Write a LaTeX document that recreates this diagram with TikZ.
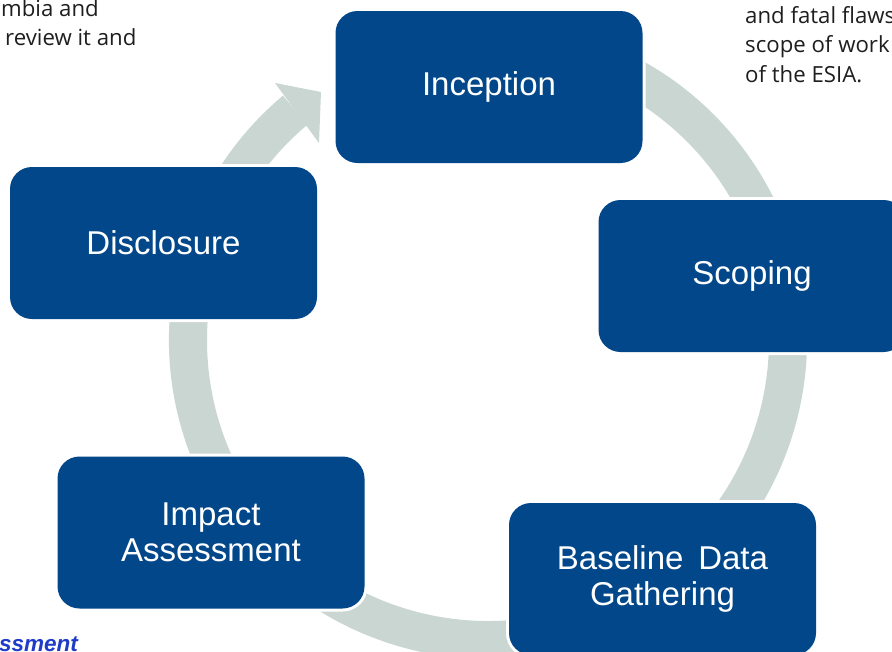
\documentclass[tikz,border=0pt]{standalone}
\usepackage{fontspec}
\setmainfont{Liberation Sans}
\newfontfamily\notefont{Open Sans}
\definecolor{boxblue}{RGB}{1,71,138}
\definecolor{ringgray}{RGB}{201,214,210}
\definecolor{txtdark}{RGB}{30,30,30}
\definecolor{linkblue}{RGB}{30,60,200}
\begin{document}
\begin{tikzpicture}[x=1pt,y=1pt,
  stage/.style={rounded corners=22pt, fill=boxblue,
    preaction={draw=white, line width=6pt},
    text=white, minimum width=307pt, minimum height=152pt,
    align=center, inner sep=0pt, font=\fontsize{33}{35.5}\selectfont},
  note/.style={anchor=base west, inner sep=0pt, text=txtdark,
    font=\notefont\fontsize{22.2}{29.5}\selectfont}]
\useasboundingbox (0,0) rectangle (892,-651);
% cycle ring with arrowhead
\begin{scope}[shift={(488,-340)}]
  \fill[ringgray] (75:319) arc[start angle=75, end angle=-230, radius=319]
     -- (130:281) arc[start angle=-230, end angle=75, radius=281] -- cycle;
\end{scope}
\fill[ringgray] (275,-83) -- (321,-92) -- (319,-143) -- cycle;
% stages
\node[stage] (inc) at (489,-87) {Inception};
\node[stage] (sco) at (752,-276) {Scoping};
\node[stage] (bas) at (662.5,-579) {Baseline\hspace{0.45em}Data\\Gathering};
\node[stage] (imp) at (211,-532.5) {Impact\\Assessment};
\node[stage] (dis) at (163.5,-243) {Disclosure};
% cropped surrounding texts
\node[note] (tl1) at (1,-16) {mbia and};
\node[note] (tl2) at (5,-45) {review it and};
\node[note] (tr1) at (745,-23) {and fatal flaws};
\node[note] (tr2) at (745,-52) {scope of work};
\node[note] (tr3) at (745,-82) {of the ESIA.};
\node[note, text=linkblue, font=\fontsize{22.5}{27}\selectfont\bfseries\itshape] (bl) at (-1,-651) {ssment};
\end{tikzpicture}
\end{document}
